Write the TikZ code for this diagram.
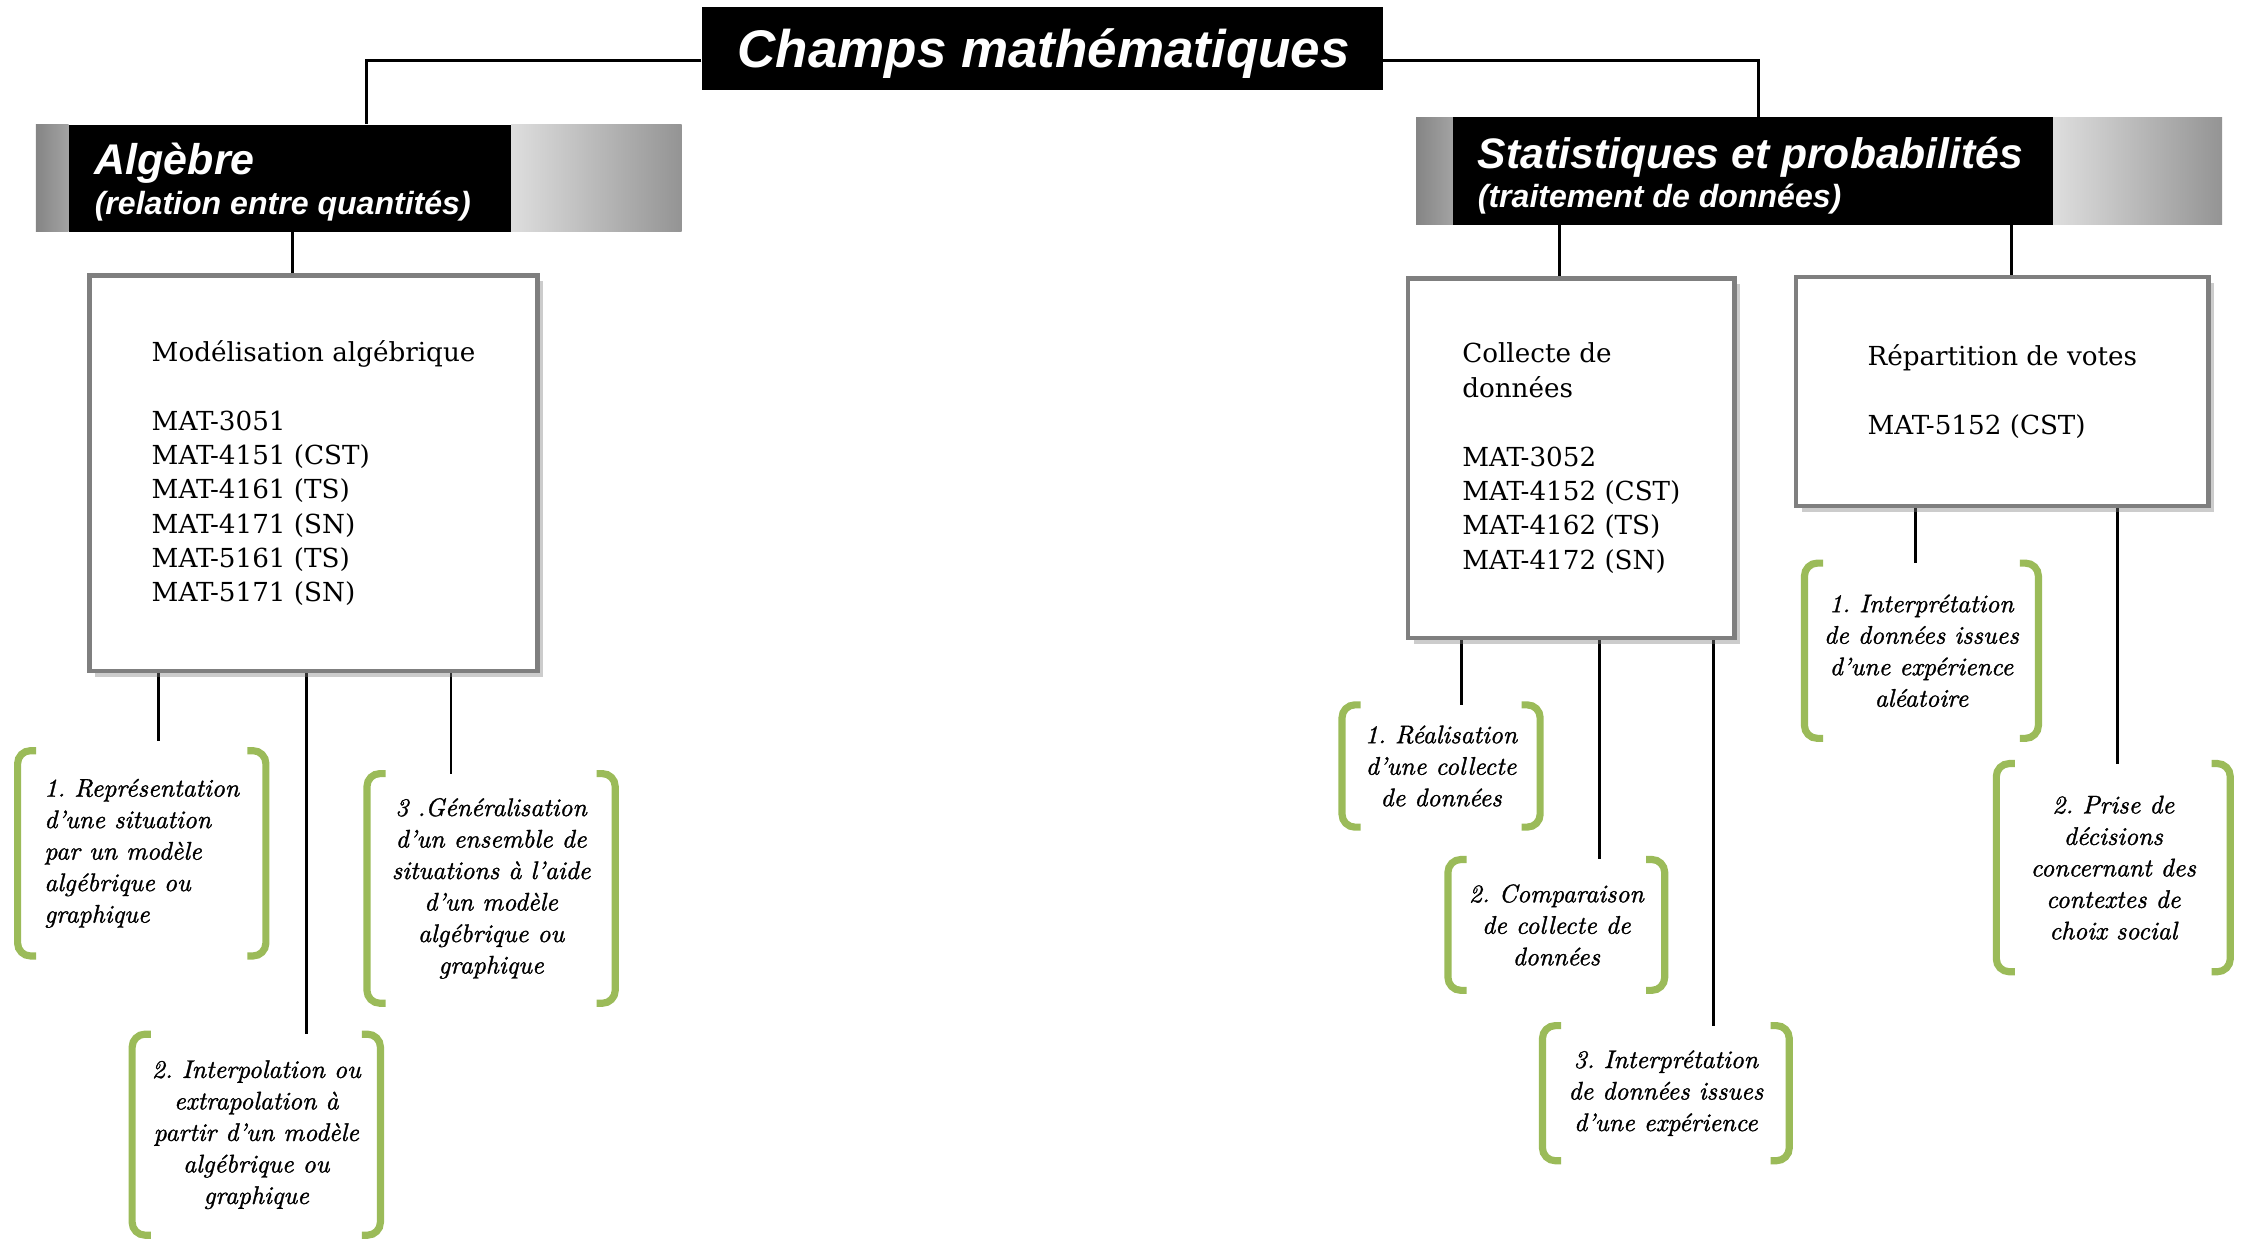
\documentclass[tikz,border=0pt]{standalone}
\usepackage{fontspec}
\newfontfamily\hdfont{Liberation Sans}
\newfontfamily\boxfont{DejaVu Serif}
\newfontfamily\itfont{lmroman10-italic.otf}[FakeBold=1.2]
\usetikzlibrary{shadows,calc}
\definecolor{brgreen}{HTML}{9BBB59}
\definecolor{boxgray}{HTML}{7F7F7F}
\pgfdeclarelayer{bg}
\pgfsetlayers{bg,main}
\frenchspacing
\newcommand\greenbrackets[1]{%
  \draw[brline] ([xshift=13pt]#1.north west) -- (#1.north west) -- (#1.south west) -- ([xshift=13pt]#1.south west);
  \draw[brline] ([xshift=-13pt]#1.north east) -- (#1.north east) -- (#1.south east) -- ([xshift=-13pt]#1.south east);}
\begin{document}
\begin{tikzpicture}[x=1pt,y=-1pt,
  conn/.style={line width=2pt, black},
  hdbox/.style={fill=black, inner sep=0pt},
  hdtext/.style={anchor=base west, text=white, inner sep=0pt},
  mainbox/.style={draw=boxgray, line width=3pt, fill=white, align=left, inner sep=0pt,
     font=\boxfont\fontsize{18.3}{24}\selectfont,
     drop shadow={shadow xshift=4pt, shadow yshift=-4pt, opacity=0.4}},
  brk/.style={inner sep=0pt, font=\itfont\fontsize{17.8}{22}\selectfont, align=center},
  brline/.style={draw=brgreen, line width=5pt, rounded corners=9pt},
]
\useasboundingbox (0,0) rectangle (1568,867);

% title
\node[hdbox, minimum width=476, minimum height=58] (title) at (728,34) {};
\node[text=white, inner sep=0pt, anchor=base, font=\hdfont\bfseries\itshape\fontsize{37}{37}\selectfont] (titlet) at (729,47) {Champs mathématiques};

% Algebre banner
\shade[left color=black!48, right color=black!36] (25,87) rectangle (48,162);
\shade[left color=black!13, right color=black!42] (357,87) rectangle (476,162);
\node[hdbox, minimum width=309, minimum height=75] (alg) at (202.5,124.5) {};
\node[hdtext, font=\hdfont\bfseries\itshape\fontsize{30}{30}\selectfont] (algt) at (66,122) {Algèbre};
\node[hdtext, font=\hdfont\bfseries\itshape\fontsize{22.4}{22}\selectfont] (algs) at (66,150) {(relation entre quantités)};

% Stats banner
\shade[left color=black!48, right color=black!36] (989,82) rectangle (1015,157);
\shade[left color=black!13, right color=black!42] (1434,82) rectangle (1552,157);
\node[hdbox, minimum width=419, minimum height=75] (stats) at (1224.5,119.5) {};
\node[hdtext, font=\hdfont\bfseries\itshape\fontsize{29.8}{29}\selectfont] (statst) at (1032,118) {Statistiques et probabilités};
\node[hdtext, font=\hdfont\bfseries\itshape\fontsize{22.4}{22}\selectfont] (statss) at (1032,145) {(traitement de données)};

% main boxes
\node[mainbox, minimum width=313, minimum height=276] (model) at (219,330.5)
  {Modélisation algébrique\\[24pt]MAT-3051\\MAT-4151 (CST)\\MAT-4161 (TS)\\MAT-4171 (SN)\\MAT-5161 (TS)\\MAT-5171 (SN)};
\node[mainbox, minimum width=228, minimum height=251] (collect) at (1097.5,320)
  {Collecte de\\données\\[24pt]MAT-3052\\MAT-4152 (CST)\\MAT-4162 (TS)\\MAT-4172 (SN)};
\node[mainbox, minimum width=288, minimum height=160] (rep) at (1398.5,273.5)
  {Répartition de votes\\[24pt]MAT-5152 (CST)};

% bracket nodes
\node[brk, align=left, minimum width=173, minimum height=143] (b1) at (99,596)
  {1. Représentation\\d’une situation\\par un modèle\\algébrique ou\\graphique};
\node[brk, minimum width=173, minimum height=140] (b2) at (179,792.5)
  {2. Interpolation ou\\extrapolation à\\partir d’un modèle\\algébrique ou\\graphique};
\node[brk, minimum width=173, minimum height=160] (b3) at (343,620.5)
  {3 .Généralisation\\d’un ensemble de\\situations à l’aide\\d’un modèle\\algébrique ou\\graphique};
\node[brk, minimum width=138, minimum height=85] (r1) at (1006.5,535)
  {1. Réalisation\\d’une collecte\\de données};
\node[brk, minimum width=151, minimum height=91] (r2) at (1087,646)
  {2. Comparaison\\de collecte de\\données};
\node[brk, minimum width=172, minimum height=94] (r3) at (1163.5,763.5)
  {3. Interprétation\\de données issues\\d’une expérience};
\node[brk, minimum width=163, minimum height=122] (v1) at (1342,454.5)
  {1. Interprétation\\de données issues\\d’une expérience\\aléatoire};
\node[brk, minimum width=163, minimum height=145] (v2) at (1476,606)
  {2. Prise de\\décisions\\concernant des\\contextes de\\choix social};

\foreach \n in {b1,b2,b3,r1,r2,r3,v1,v2} {\greenbrackets{\n}}

% connectors
\begin{pgfonlayer}{bg}
\draw[conn] ([yshift=-8pt]title.west) -| ([xshift=53.5pt]alg.north);
\draw[conn] ([yshift=-8pt]title.east) -| ([xshift=3.5pt]stats.north);
\draw[conn] ([xshift=1.5pt]alg.south) -- ([xshift=1.5pt]alg.south |- model.north);
\draw[conn] ([xshift=-135.5pt]stats.south) -- ([xshift=-135.5pt]stats.south |- collect.north);
\draw[conn] ([xshift=180.5pt]stats.south) -- ([xshift=180.5pt]stats.south |- rep.north);
\draw[conn, shorten >=7pt] ([xshift=-108pt]model.south) -- ([xshift=-108pt]model.south |- b1.north);
\draw[conn] ([xshift=-5pt]model.south) -- ([xshift=-5pt]model.south |- b2.north);
\draw[conn] ([xshift=96pt]model.south) -- ([xshift=96pt]model.south |- b3.north);
\draw[conn] ([xshift=-76.5pt]collect.south) -- ([xshift=-76.5pt]collect.south |- r1.north);
\draw[conn] ([xshift=19.5pt]collect.south) -- ([xshift=19.5pt]collect.south |- r2.north);
\draw[conn] ([xshift=99.5pt]collect.south) -- ([xshift=99.5pt]collect.south |- r3.north);
\draw[conn] ([xshift=-60.5pt]rep.south) -- ([xshift=-60.5pt]rep.south |- v1.north);
\draw[conn] ([xshift=80.5pt]rep.south) -- ([xshift=80.5pt]rep.south |- v2.north);
\end{pgfonlayer}
\end{tikzpicture}
\end{document}
